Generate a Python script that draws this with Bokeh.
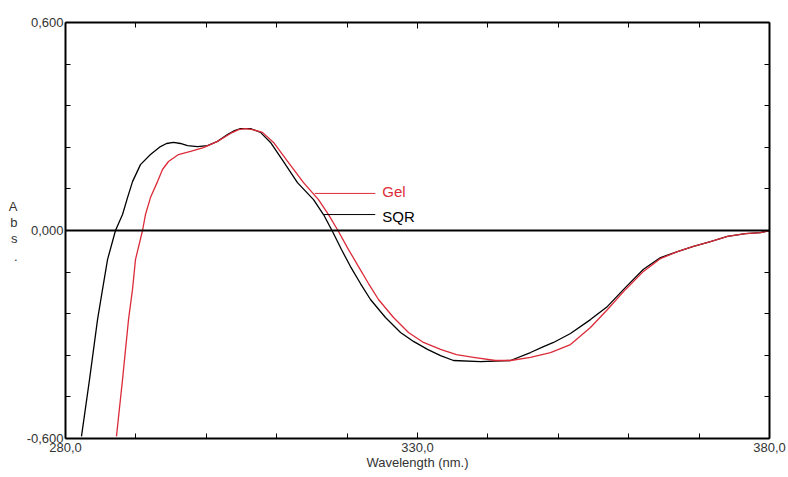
from bokeh.plotting import figure
from bokeh.models import (Range1d, LinearAxis, FixedTicker, Span, Label)
from bokeh.embed import file_html
from bokeh.resources import INLINE

# ---- data ----
sqr_wl = [282.27, 283.41, 284.55, 285.26, 285.97, 287.10, 288.10, 288.81, 289.52, 290.65,
          292.07, 293.49, 294.35, 295.34, 296.33, 297.33, 298.75, 300.17, 301.59, 303.01,
          304.01, 304.86, 306.28, 307.70, 309.12, 310.97, 312.95, 315.23, 316.65, 317.93,
          319.20, 320.48, 321.90, 323.32, 325.45, 327.59, 329.43, 331.42, 333.27, 335.11,
          338.95, 343.21, 346.05, 347.90, 349.32, 351.73, 354.57, 356.99, 359.55, 362.10,
          364.52, 366.93, 369.20, 371.62, 374.03, 376.59, 378.72, 380.00]
sqr_abs = [-0.594, -0.430, -0.257, -0.170, -0.084, 0.000, 0.046, 0.095, 0.141, 0.190,
           0.219, 0.242, 0.251, 0.254, 0.251, 0.245, 0.242, 0.245, 0.257, 0.277,
           0.288, 0.294, 0.294, 0.283, 0.254, 0.199, 0.138, 0.089, 0.046, -0.003,
           -0.055, -0.104, -0.153, -0.199, -0.251, -0.294, -0.320, -0.343, -0.361, -0.375,
           -0.378, -0.375, -0.352, -0.335, -0.323, -0.297, -0.257, -0.219, -0.164, -0.112,
           -0.078, -0.061, -0.046, -0.032, -0.017, -0.009, -0.006, 0.000]

gel_wl = [287.24, 288.10, 288.95, 289.52, 289.94, 290.94, 291.36, 292.07, 293.07, 293.78,
          294.63, 296.05, 297.76, 299.60, 301.59, 303.44, 304.57, 305.57, 306.56, 307.98,
          309.55, 311.68, 313.81, 315.94, 317.36, 318.78, 320.20, 321.62, 323.04, 324.46,
          326.59, 328.72, 330.85, 333.27, 335.54, 337.95, 341.08, 343.21, 346.05, 348.89,
          351.73, 354.57, 356.99, 359.55, 362.10, 364.52, 366.93, 369.20, 371.62, 374.03,
          376.59, 378.72, 380.00]
gel_abs = [-0.594, -0.430, -0.257, -0.170, -0.084, 0.000, 0.046, 0.095, 0.141, 0.176,
           0.199, 0.219, 0.228, 0.239, 0.257, 0.280, 0.291, 0.294, 0.291, 0.283,
           0.254, 0.196, 0.138, 0.089, 0.046, -0.003, -0.055, -0.104, -0.153, -0.199,
           -0.251, -0.294, -0.323, -0.343, -0.358, -0.366, -0.375, -0.375, -0.366, -0.352,
           -0.329, -0.280, -0.228, -0.170, -0.118, -0.081, -0.061, -0.046, -0.032, -0.017,
           -0.009, -0.006, 0.000]

x_ticks = [280, 330, 380]
x_tick_labels = ["280,0", "330,0", "380,0"]
y_ticks = [-0.6, 0.0, 0.6]
y_tick_labels = ["-0,600", "0,000", "0,600"]
x_minor = [290, 300, 310, 320, 340, 350, 360, 370]
y_minor = [-0.48, -0.36, -0.24, -0.12, 0.12, 0.24, 0.36, 0.48]

ylabel_chars = ["A", "b", "s", "."]
ylabel_pos = [0.069, 0.024, -0.022, -0.075]

RED = "#dc2b38"
FONT = "Liberation Sans"
TXT = "#333333"

p = figure(width=788, height=477, output_backend="svg", toolbar_location=None,
           x_range=Range1d(280, 380), y_range=Range1d(-0.6, 0.6),
           x_axis_location=None, y_axis_location=None,
           min_border_left=65, min_border_right=19, min_border_top=22, min_border_bottom=39)
p.grid.visible = False
p.outline_line_color = None
p.background_fill_color = "white"
p.border_fill_color = "white"

def mk_axis(ticks, minor, labels, show_labels):
    ax = LinearAxis(ticker=FixedTicker(ticks=ticks, minor_ticks=minor))
    ax.axis_line_width = 2
    ax.axis_line_color = "black"
    ax.major_tick_in = 6
    ax.major_tick_out = 0
    ax.minor_tick_in = 5
    ax.minor_tick_out = 0
    ax.major_tick_line_color = "black"
    ax.minor_tick_line_color = "black"
    if show_labels:
        ax.major_label_overrides = {t: l for t, l in zip(ticks, labels)}
        ax.major_label_text_font = FONT
        ax.major_label_text_font_size = "13px"
        ax.major_label_text_color = TXT
    else:
        ax.major_label_text_font_size = "0px"
        ax.major_label_text_color = None
    return ax

xb = mk_axis(x_ticks, x_minor, x_tick_labels, True)
xb.major_label_standoff = 4
xb.axis_label = "Wavelength (nm.)"
xb.axis_label_text_font = FONT
xb.axis_label_text_font_size = "13px"
xb.axis_label_text_font_style = "normal"
xb.axis_label_text_color = TXT
xb.axis_label_standoff = 0
p.add_layout(xb, "below")

xt = mk_axis(x_ticks, x_minor, x_tick_labels, False)
p.add_layout(xt, "above")

yl = mk_axis(y_ticks, y_minor, y_tick_labels, True)
yl.major_label_standoff = 2
yl.major_label_orientation = "horizontal"
p.add_layout(yl, "left")

# stacked "Abs." label drawn as tick labels of an extra, invisible left axis
ya = LinearAxis(ticker=FixedTicker(ticks=ylabel_pos, minor_ticks=[]))
ya.major_label_overrides = {t: c for t, c in zip(ylabel_pos, ylabel_chars)}
ya.axis_line_color = None
ya.major_tick_line_color = None
ya.minor_tick_line_color = None
ya.major_tick_in = 0
ya.major_tick_out = 0
ya.major_label_standoff = 6
ya.major_label_orientation = "horizontal"
ya.major_label_text_font = FONT
ya.major_label_text_font_size = "13px"
ya.major_label_text_color = TXT
ya.major_label_text_align = "center"
p.add_layout(ya, "left")

yr = mk_axis(y_ticks, y_minor, y_tick_labels, False)
p.add_layout(yr, "right")

p.add_layout(Span(location=0, dimension="width", line_color="black", line_width=2))

p.line(sqr_wl, sqr_abs, line_color="black", line_width=1.3, line_join="round")
p.line(gel_wl, gel_abs, line_color=RED, line_width=1.3, line_join="round")

# leader lines and series labels
p.segment(x0=[315.4], y0=[0.107], x1=[324.0], y1=[0.107], line_color=RED, line_width=1)
p.segment(x0=[316.65], y0=[0.046], x1=[324.0], y1=[0.046], line_color="black", line_width=1)
p.add_layout(Label(x=325.0, y=0.112, text="Gel", text_font=FONT, text_font_size="15px",
                   text_color=RED, text_baseline="middle", text_align="left"))
p.add_layout(Label(x=325.0, y=0.040, text="SQR", text_font=FONT, text_font_size="15px",
                   text_color="black", text_baseline="middle", text_align="left"))

open("out.html", "w").write(file_html(p, INLINE))
